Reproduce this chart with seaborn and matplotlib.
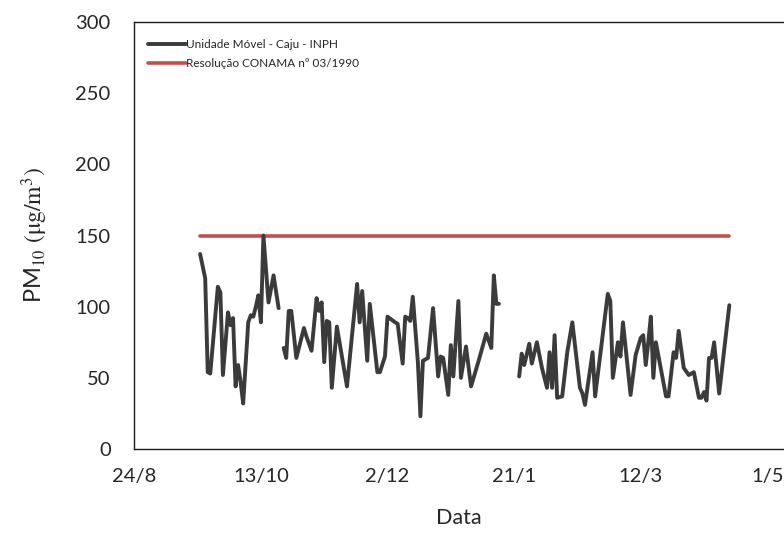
import pandas as pd
import matplotlib
matplotlib.use("Agg")
import matplotlib.pyplot as plt
import matplotlib.dates as mdates
from matplotlib.lines import Line2D
from matplotlib.ticker import FuncFormatter
import seaborn as sns

# Daily PM10 at the mobile unit (three monitoring periods)
period1_dates = [
    "2012-09-19", "2012-09-21", "2012-09-22", "2012-09-23", "2012-09-26", "2012-09-27",
    "2012-09-28", "2012-09-30", "2012-10-01", "2012-10-02", "2012-10-03", "2012-10-04",
    "2012-10-05", "2012-10-06", "2012-10-08", "2012-10-09", "2012-10-10", "2012-10-11",
    "2012-10-12", "2012-10-13", "2012-10-14", "2012-10-16", "2012-10-18", "2012-10-20",
]
period1_pm10 = [
    137, 120, 54, 53, 114, 110,
    52, 96, 87, 92, 44, 59,
    47, 32, 89, 94, 93, 100,
    108, 89, 150, 103, 122, 99,
]

period2_dates = [
    "2012-10-22", "2012-10-23", "2012-10-24", "2012-10-25", "2012-10-27", "2012-10-30",
    "2012-10-31", "2012-11-02", "2012-11-04", "2012-11-05", "2012-11-06", "2012-11-07",
    "2012-11-08", "2012-11-09", "2012-11-10", "2012-11-12", "2012-11-16", "2012-11-20",
    "2012-11-21", "2012-11-22", "2012-11-24", "2012-11-25", "2012-11-28", "2012-11-29",
    "2012-12-01", "2012-12-02", "2012-12-05", "2012-12-06", "2012-12-08", "2012-12-09",
    "2012-12-10", "2012-12-11", "2012-12-12", "2012-12-14", "2012-12-15", "2012-12-16",
    "2012-12-18", "2012-12-20", "2012-12-22", "2012-12-23", "2012-12-24", "2012-12-26",
    "2012-12-27", "2012-12-28", "2012-12-30", "2012-12-31", "2013-01-02", "2013-01-04",
    "2013-01-07", "2013-01-10", "2013-01-12", "2013-01-13", "2013-01-14", "2013-01-15",
]
period2_pm10 = [
    71, 64, 97, 97, 64, 85,
    79, 69, 106, 97, 103, 61,
    90, 89, 43, 86, 44, 116,
    89, 111, 62, 102, 54, 54,
    65, 93, 89, 88, 60, 93,
    92, 90, 107, 61, 23, 62,
    64, 99, 51, 65, 64, 38,
    73, 51, 104, 50, 72, 44,
    62, 81, 71, 122, 102, 102,
]

period3_dates = [
    "2013-01-23", "2013-01-24", "2013-01-25", "2013-01-27", "2013-01-28", "2013-01-30",
    "2013-02-01", "2013-02-03", "2013-02-04", "2013-02-05", "2013-02-06", "2013-02-07",
    "2013-02-09", "2013-02-11", "2013-02-13", "2013-02-16", "2013-02-17", "2013-02-18",
    "2013-02-21", "2013-02-22", "2013-02-27", "2013-02-28", "2013-03-01", "2013-03-03",
    "2013-03-04", "2013-03-05", "2013-03-08", "2013-03-10", "2013-03-12", "2013-03-13",
    "2013-03-14", "2013-03-15", "2013-03-16", "2013-03-17", "2013-03-18", "2013-03-22",
    "2013-03-23", "2013-03-25", "2013-03-26", "2013-03-27", "2013-03-29", "2013-03-31",
    "2013-04-02", "2013-04-04", "2013-04-05", "2013-04-06", "2013-04-07", "2013-04-08",
    "2013-04-09", "2013-04-10", "2013-04-12", "2013-04-16",
]
period3_pm10 = [
    51, 67, 59, 74, 60, 75,
    57, 43, 68, 43, 80, 36,
    37, 68, 89, 43, 39, 31,
    68, 37, 109, 104, 50, 75,
    65, 89, 38, 66, 78, 80,
    59, 75, 93, 50, 75, 37,
    37, 68, 64, 83, 57, 52,
    54, 36, 36, 40, 34, 64,
    64, 75, 39, 101,
]

# CONAMA 03/1990 daily standard for PM10
standard_dates = ["2012-09-19", "2013-04-16"]
standard_pm10 = [150, 150]

series_label = "Unidade Móvel - Caju - INPH"
standard_label = "Resolução CONAMA nº 03/1990"
tick_dates = ["2012-08-24", "2012-10-13", "2012-12-02", "2013-01-21", "2013-03-12", "2013-05-01"]
y_ticks = [0, 50, 100, 150, 200, 250, 300]

frames = []
for name, d, v in [("p1", period1_dates, period1_pm10),
                   ("p2", period2_dates, period2_pm10),
                   ("p3", period3_dates, period3_pm10)]:
    frames.append(pd.DataFrame({"date": pd.to_datetime(d), "pm10": v, "period": name}))
pm = pd.concat(frames, ignore_index=True)
std = pd.DataFrame({"date": pd.to_datetime(standard_dates), "pm10": standard_pm10})

sns.set_theme(style="white")
plt.rcParams["font.family"] = ["Lato", "DejaVu Sans"]
plt.rcParams["mathtext.fontset"] = "stix"

line_color = "#3b3b3b"
red_color = "#c0504d"
text_color = "#262626"

fig = plt.figure(figsize=(7.84, 5.5), dpi=100)
ax = fig.add_axes([0.1713, 0.1836, 0.8287, 0.7764])

sns.lineplot(data=std, x="date", y="pm10", color=red_color, linewidth=2.6,
             ax=ax, legend=False)
sns.lineplot(data=pm, x="date", y="pm10", units="period", estimator=None,
             color=line_color, linewidth=2.8, ax=ax, legend=False)

start = pd.Timestamp("2012-08-24")
ax.set_xlim(start, start + pd.Timedelta(days=256.6))
ax.set_ylim(0, 300)
ax.set_yticks(y_ticks)
ax.set_xticks(pd.to_datetime(tick_dates))
ax.xaxis.set_major_formatter(FuncFormatter(
    lambda x, pos: f"{mdates.num2date(x).day}/{mdates.num2date(x).month}"))

for side in ["left", "bottom", "top"]:
    ax.spines[side].set_visible(True)
    ax.spines[side].set_color("#1a1a1a")
    ax.spines[side].set_linewidth(1.0)
ax.spines["right"].set_visible(False)

ax.tick_params(axis="both", which="major", direction="out", length=5, width=0.9,
               color="#1a1a1a", labelsize=14.5, labelcolor=text_color)
ax.tick_params(axis="x", pad=9)
ax.tick_params(axis="y", pad=12)
ax.tick_params(top=False, right=False)

ax.set_xlabel("Data", fontsize=15.5, color=text_color, labelpad=16)
ax.set_ylabel(r"PM$_{10}$ $(\mathrm{\mu g/m^{3}})$", fontsize=17, color=text_color, labelpad=18)

handles = [Line2D([], [], color=line_color, linewidth=2.8),
           Line2D([], [], color=red_color, linewidth=2.6)]
ax.legend(handles, [series_label, standard_label], loc="upper left",
          bbox_to_anchor=(0.005, 0.985), frameon=False, fontsize=8.5,
          handlelength=3.2, handletextpad=0.0, labelspacing=0.7, labelcolor=text_color)

fig.savefig("out.png", dpi=100)
